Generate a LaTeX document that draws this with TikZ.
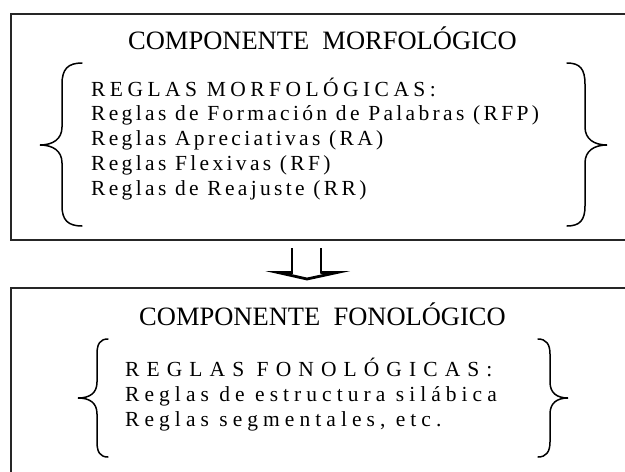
\documentclass[tikz,border=0pt]{standalone}
\usepackage{fontspec}
\setmainfont{Liberation Serif}
\newfontfamily\reglafont[LetterSpace=15.5]{Liberation Serif}
\newfontfamily\cabfont[LetterSpace=20.7]{Liberation Serif}
\newfontfamily\reglafontb[LetterSpace=23.5]{Liberation Serif}
\newfontfamily\cabfontb[LetterSpace=33]{Liberation Serif}

\begin{document}
\begin{tikzpicture}[x=1pt,y=-1pt,
  caja/.style={draw=black!85, line width=1.4pt},
  llave/.style={draw, line width=1.5pt, line cap=round},
  titulo/.style={font=\fontsize{26.5}{30}\selectfont, anchor=base, inner sep=0pt},
  cabecera/.style={font=\cabfont\fontsize{21.5}{24}\selectfont, anchor=base west, inner sep=0pt},
  regla/.style={font=\reglafont\fontsize{21.5}{24}\selectfont, anchor=base west, inner sep=0pt},
  cabecerab/.style={font=\cabfontb\fontsize{21.5}{24}\selectfont, anchor=base west, inner sep=0pt},
  reglab/.style={font=\reglafontb\fontsize{21.5}{24}\selectfont, anchor=base west, inner sep=0pt}]
\clip (0,0) rectangle (625,472);

% Componente morfologico
\draw[caja] (11,14) rectangle (640,240);
\node[titulo] (morf) at (322.5,49) {COMPONENTE\hspace{0.5em}MORFOLÓGICO};
\node[cabecera] (rm0) at (91,96) {REGLAS MORFOLÓGICAS:};
\foreach \txt [count=\i] in {Reglas de Formación de Palabras (RFP), Reglas Apreciativas (RA),
    Reglas Flexivas (RF), Reglas de Reajuste (RR)}
  \node[regla] (rm\i) at (91,96+24.75*\i) {\txt};
\draw[llave] (82,63) .. controls (68,63) and (62,69) .. (62,84) -- (62,127)
  .. controls (62,139) and (53,145) .. (40,145) .. controls (53,145) and (62,151) .. (62,163)
  -- (62,206) .. controls (62,220) and (68,226) .. (82,226);
\draw[llave] (567,63) .. controls (580,63) and (585,69) .. (585,84) -- (585,127)
  .. controls (585,139) and (594,145) .. (607,145) .. controls (594,145) and (585,151) .. (585,163)
  -- (585,206) .. controls (585,220) and (580,226) .. (567,226);

% flecha hueca
\draw[line width=1.5pt] (292,248) -- (292,272.5);
\draw[line width=1.5pt] (321,248) -- (321,272.5);
\draw[line width=2.8pt] (292.75,272.5) -- (278,272.5) -- (307,279) -- (337,272.5) -- (320.25,272.5);

% Componente fonologico
\draw[caja] (11,288) rectangle (640,490);
\node[titulo] (fono) at (322.5,325) {COMPONENTE\hspace{0.5em}FONOLÓGICO};
\node[cabecerab] (rf0) at (125,376) {REGLAS FONOLÓGICAS:};
\foreach \txt [count=\i] in {Reglas de estructura silábica, {Reglas segmentales, etc.}}
  \node[reglab] (rf\i) at (125,376+25*\i) {\txt};
\draw[llave] (108,339) .. controls (100,339) and (97,344) .. (97,354) -- (97,382)
  .. controls (97,393) and (90,398) .. (78,398) .. controls (90,398) and (97,403) .. (97,414)
  -- (97,442) .. controls (97,452) and (100,457) .. (108,457);
\draw[llave] (538,339) .. controls (546,339) and (550,344) .. (550,354) -- (550,382)
  .. controls (550,393) and (557,398) .. (568,398) .. controls (557,398) and (550,403) .. (550,414)
  -- (550,442) .. controls (550,452) and (546,457) .. (538,457);
\end{tikzpicture}
\end{document}
